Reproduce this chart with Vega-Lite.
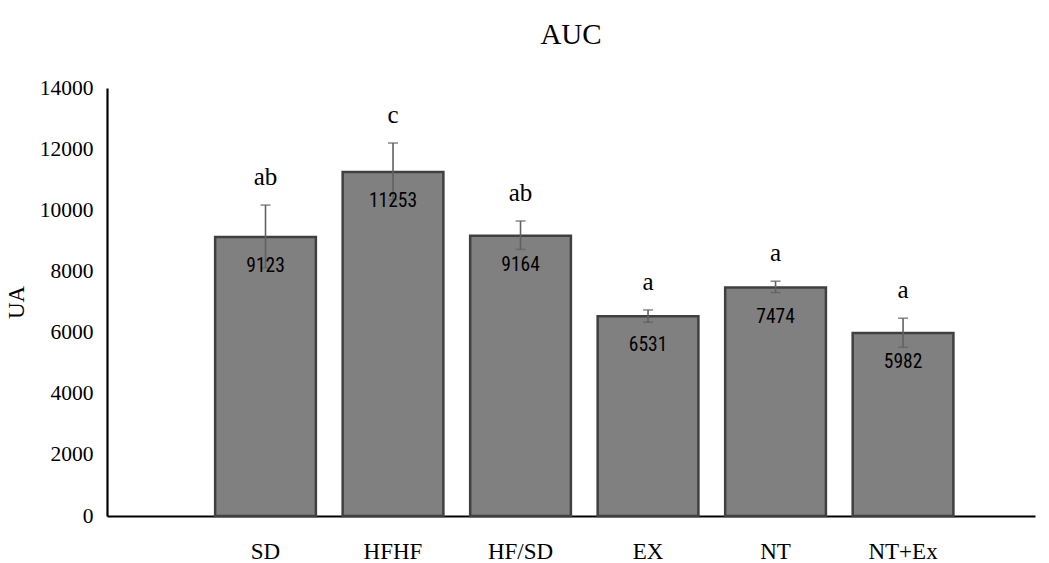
{
  "$schema": "https://vega.github.io/schema/vega-lite/v6.json",
  "width": 928,
  "height": 428,
  "autosize": {"type": "none"},
  "padding": {"left": 107, "top": 88, "right": 14, "bottom": 47},
  "background": "white",
  "title": {"text": "AUC", "font": "Liberation Serif", "fontSize": 29, "fontWeight": "normal", "color": "black", "offset": 27},
  "data": {"values": [
    {"g": "SD", "mean": 9123, "lo": 8120, "hi": 10170, "letter": "ab"},
    {"g": "HFHF", "mean": 11253, "lo": 10350, "hi": 12200, "letter": "c"},
    {"g": "HF/SD", "mean": 9164, "lo": 8720, "hi": 9650, "letter": "ab"},
    {"g": "EX", "mean": 6531, "lo": 6340, "hi": 6740, "letter": "a"},
    {"g": "NT", "mean": 7474, "lo": 7310, "hi": 7680, "letter": "a"},
    {"g": "NT+Ex", "mean": 5982, "lo": 5520, "hi": 6470, "letter": "a"}
  ]},
  "encoding": {
    "x": {"field": "g", "type": "nominal", "sort": null,
      "scale": {"paddingInner": 0.21, "paddingOuter": 0.744, "align": 0.57},
      "axis": {"title": null, "labelAngle": 0, "ticks": false, "tickSize": 0, "labelPadding": 24,
        "labelFont": "Liberation Serif", "labelFontSize": 23, "labelColor": "black",
        "domainColor": "black", "domainWidth": 2.2}}
  },
  "layer": [
    {"mark": {"type": "bar", "fill": "#808080", "stroke": "#404040", "strokeWidth": 2.5},
     "encoding": {"y": {"field": "mean", "type": "quantitative",
       "scale": {"domain": [0, 14000], "nice": false},
       "axis": {"title": "UA", "titleFont": "Liberation Serif", "titleFontSize": 23, "titleFontWeight": "normal", "titleColor": "black", "titlePadding": 11,
         "values": [0, 2000, 4000, 6000, 8000, 10000, 12000, 14000], "format": "d",
         "labelFont": "Liberation Serif", "labelFontSize": 21.5, "labelColor": "black", "labelPadding": 14,
         "ticks": false, "tickSize": 0, "grid": false, "domainColor": "black", "domainWidth": 2.2}}}},
    {"mark": {"type": "rule", "color": "#606060", "strokeWidth": 1.6},
     "encoding": {"y": {"field": "lo", "type": "quantitative"}, "y2": {"field": "hi"}}},
    {"mark": {"type": "tick", "color": "#606060", "size": 10, "thickness": 1.6},
     "encoding": {"y": {"field": "hi", "type": "quantitative"}}},
    {"mark": {"type": "tick", "color": "#606060", "size": 10, "thickness": 1.6},
     "encoding": {"y": {"field": "lo", "type": "quantitative"}}},
    {"mark": {"type": "text", "font": "Roboto Condensed, Liberation Sans Narrow, Roboto", "fontSize": 19.5, "color": "black", "baseline": "middle", "dy": 29},
     "encoding": {"y": {"field": "mean", "type": "quantitative"}, "text": {"field": "mean", "type": "quantitative", "format": "d"}}},
    {"mark": {"type": "text", "font": "Liberation Serif", "fontSize": 25, "color": "black", "baseline": "middle", "dy": -28},
     "encoding": {"y": {"field": "hi", "type": "quantitative"}, "text": {"field": "letter"}}}
  ],
  "config": {"view": {"stroke": null}}
}
